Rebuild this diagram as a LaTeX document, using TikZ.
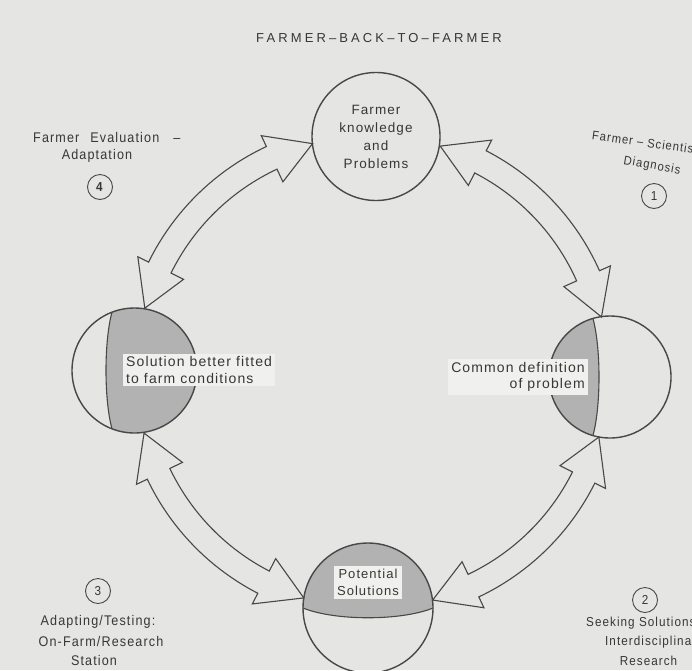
\documentclass[tikz,border=0pt]{standalone}
\usepackage{fontspec}
\setmainfont{Liberation Sans}
\newfontfamily\bodyfont[LetterSpace=8]{Liberation Sans}
\newfontfamily\titlefont[LetterSpace=24]{Liberation Sans}
\newfontfamily\labelfont[LetterSpace=8,FakeStretch=0.9]{Liberation Sans}
\definecolor{paper}{RGB}{229,229,227}
\definecolor{inkc}{RGB}{72,72,72}
\definecolor{shadec}{RGB}{178,178,178}
\definecolor{boxc}{RGB}{240,240,238}
\definecolor{txtc}{RGB}{55,55,55}
\newcommand\fbfarrow[2]{%
 \draw[blockarrow] (#1:236) -- ({#1+10.5}:261) -- ({#1+10.5}:249)
   arc[start angle={#1+10.5}, end angle={#2-10.5}, radius=249]
   -- ({#2-10.5}:261) -- (#2:236) -- ({#2-10.5}:210) -- ({#2-10.5}:224)
   arc[start angle={#2-10.5}, end angle={#1+10.5}, radius=224]
   -- ({#1+10.5}:210) -- cycle;}
\begin{document}
\begin{tikzpicture}[x=1pt,y=1pt,text=txtc,
  bigcirc/.style={circle, draw=inkc, line width=1.4pt, inner sep=0pt},
  numcirc/.style={circle, draw=inkc, line width=0.9pt, minimum size=25pt, inner sep=0pt,
     font=\labelfont\fontsize{13}{15}\selectfont},
  circtext/.style={font=\bodyfont\fontsize{13.5}{18}\selectfont, align=center},
  boxtext/.style={fill=boxc, inner sep=3pt, font=\bodyfont\fontsize{14}{16.5}\selectfont},
  sidelabel/.style={font=\labelfont\fontsize{14}{19}\selectfont, inner sep=0pt},
  smalllabel/.style={font=\labelfont\fontsize{12.5}{15}\selectfont, inner sep=0pt},
  chord/.style={draw=inkc, line width=1.1pt},
  shade/.style={fill=shadec},
  blockarrow/.style={draw=inkc, line width=1.1pt, line join=miter}]
\useasboundingbox (0,0) rectangle (692,-670);
\fill[paper] (0,0) rectangle (692,-670);
\clip (0,0) rectangle (692,-670);

% title
\node[font=\titlefont\fontsize{13}{15}\selectfont] (title) at (379,-38) {FARMER–BACK–TO–FARMER};

% shaded parts
\fill[shade] (112,-312.2) arc[start angle=111.1, end angle=-111.1, radius=62.5]
   .. controls (104,-400) and (104,-341) .. (112,-312.2) -- cycle;
\draw[chord] (112,-428.8) .. controls (104,-400) and (104,-341) .. (112,-312.2);

\fill[shade] (593,-318.8) arc[start angle=106.2, end angle=253.8, radius=61]
   .. controls (601,-406) and (601,-348) .. (593,-318.8) -- cycle;
\draw[chord] (593,-435.2) .. controls (601,-406) and (601,-348) .. (593,-318.8);

\fill[shade] (303,-608) arc[start angle=180, end angle=0, radius=65]
   .. controls (401,-621) and (335,-621) .. (303,-608) -- cycle;
\draw[chord] (433,-608) .. controls (401,-621) and (335,-621) .. (303,-608);

% circles
\node[bigcirc, minimum size=128pt, circtext] (farmer) at (376,-136.5) {Farmer\\knowledge\\and\\Problems};
\node[bigcirc, minimum size=125pt] (fitted) at (134.5,-370.5) {};
\node[bigcirc, minimum size=122pt] (common) at (610,-377) {};
\node[bigcirc, minimum size=130pt] (potential) at (368,-608) {};

% text boxes
\node[boxtext, anchor=west, align=left] (fittedtext) at (123,-370) {Solution better fitted\\to farm conditions};
\node[boxtext, anchor=east, align=right] (commontext) at (588,-377) {Common definition\\of problem};
\node[boxtext, align=center, font=\bodyfont\fontsize{13}{17}\selectfont] (pottext) at (368,-582.5) {Potential\\Solutions};

% arrows
\begin{scope}[shift={(372,-372)}]
\fbfarrow{104.6}{164.3}
\fbfarrow{13.5}{73.2}
\fbfarrow{-75.1}{-16}
\fbfarrow{195}{253.2}
\end{scope}

% stage labels
\node[sidelabel, anchor=west] (l4a) at (33,-137) {Farmer\hspace{11pt}Evaluation\hspace{14pt}–};
\node[sidelabel] (l4b) at (97,-156) {Adaptation};
\node[numcirc] (n4) at (100,-187) {\textbf{4}};

\node[smalllabel, anchor=west, rotate=-8] (l1a) at (592,-135) {Farmer – Scientist};
\node[smalllabel, rotate=-10] (l1b) at (652,-166) {Diagnosis};
\node[numcirc] (n1) at (654,-196) {1};

\node[numcirc] (n3) at (98,-591) {3};
\node[sidelabel] (l3a) at (98,-622) {Adapting/Testing:};
\node[sidelabel] (l3b) at (101,-641) {On-Farm/Research};
\node[sidelabel] (l3c) at (94,-660) {Station};

\node[numcirc] (n2) at (645,-600) {2};
\node[sidelabel, anchor=west, font=\labelfont\fontsize{13}{15}\selectfont] (l2a) at (586,-623) {Seeking Solutions};
\node[sidelabel, anchor=west, font=\labelfont\fontsize{13}{15}\selectfont] (l2b) at (605,-642) {Interdisciplinary};
\node[sidelabel, font=\labelfont\fontsize{13}{15}\selectfont] (l2c) at (648.5,-661) {Research};
\end{tikzpicture}
\end{document}
